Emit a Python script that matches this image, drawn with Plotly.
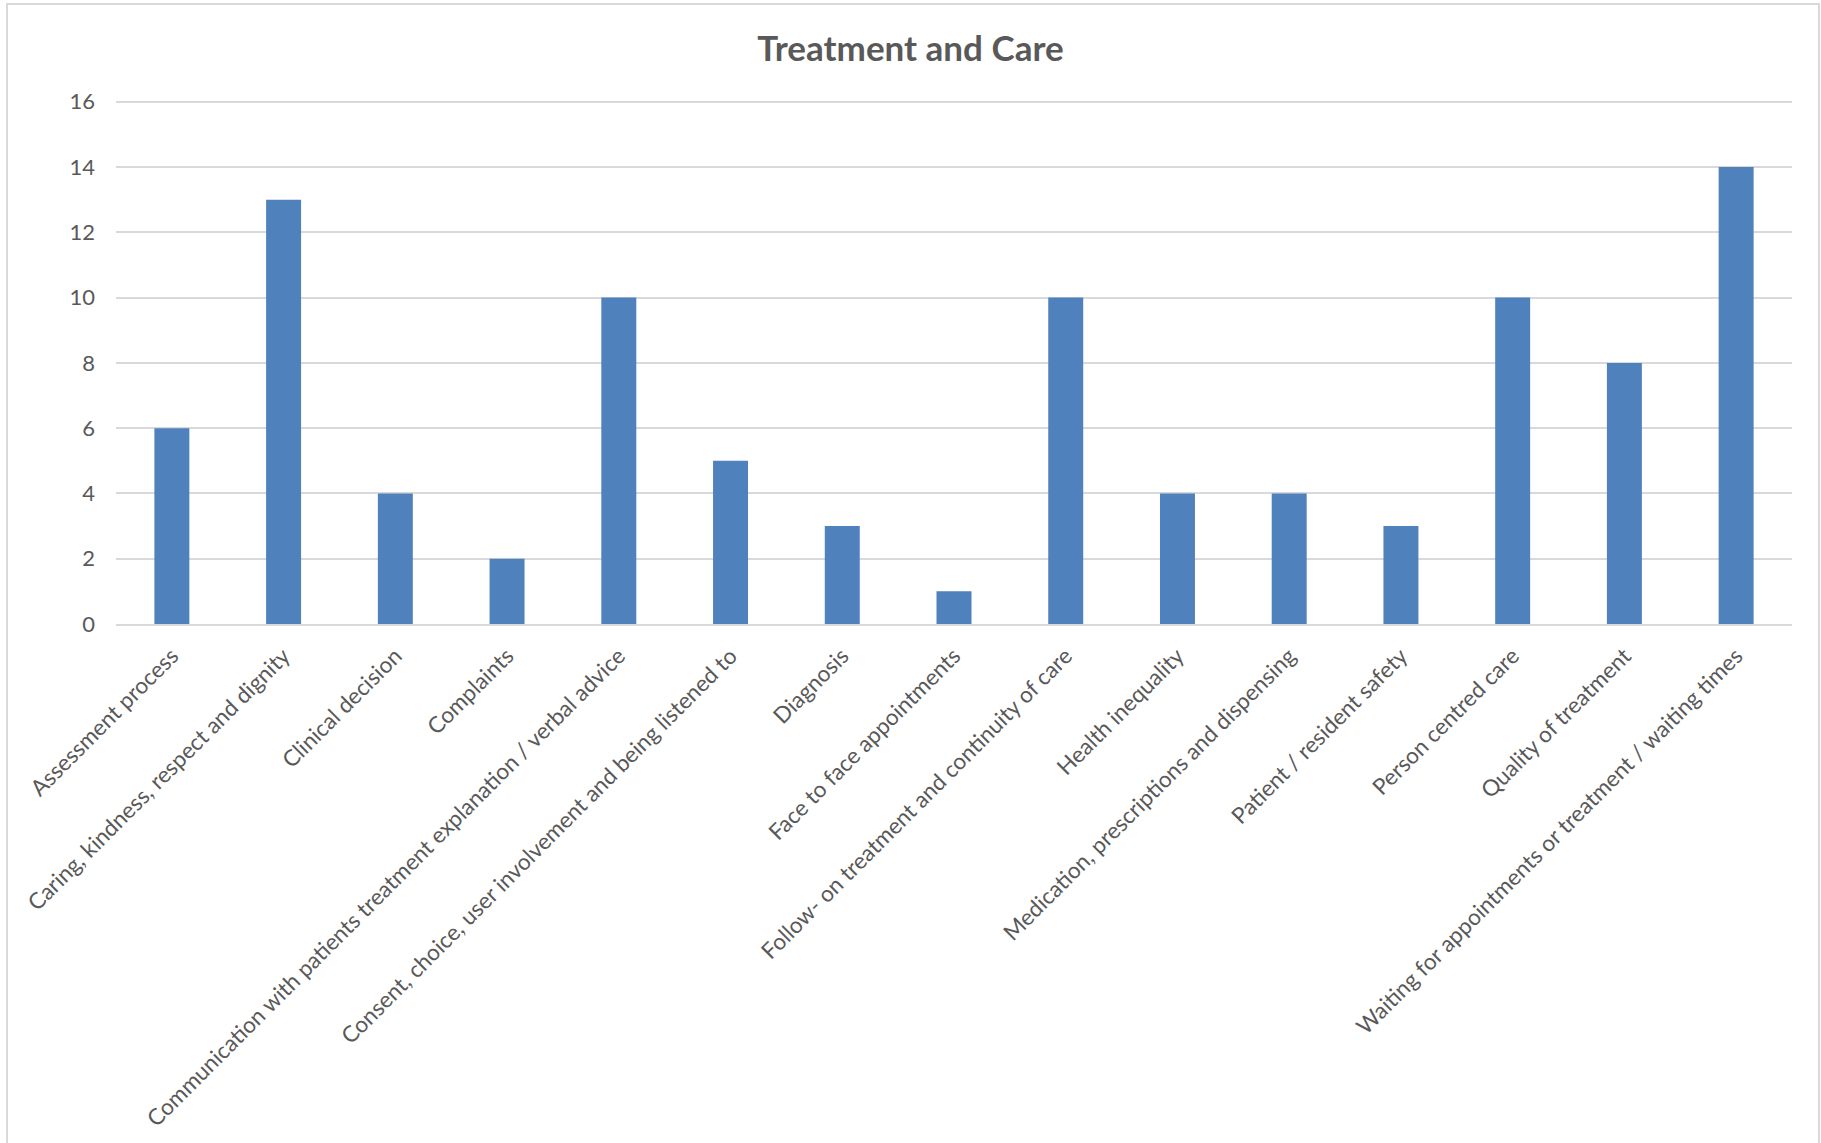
import plotly.graph_objects as go

categories = [
    "Assessment process",
    "Caring, kindness, respect and dignity",
    "Clinical decision",
    "Complaints",
    "Communication with patients treatment explanation / verbal advice",
    "Consent, choice, user involvement and being listened to",
    "Diagnosis",
    "Face to face appointments",
    "Follow- on treatment and continuity of care",
    "Health inequality",
    "Medication, prescriptions and dispensing",
    "Patient / resident safety",
    "Person centred care",
    "Quality of treatment",
    "Waiting for appointments or treatment / waiting times",
]
values = [6, 13, 4, 2, 10, 5, 3, 1, 10, 4, 4, 3, 10, 8, 14]
y_ticks = [0, 2, 4, 6, 8, 10, 12, 14, 16]

W, H = 1821, 1143
YMAX = 16.3
unit = (623.7 - 102) / 16.0
L, R, B = 116, 29, 519
T = int(round(102 - (YMAX - 16) * unit))
pw, ph = W - L - R, H - T - B

fig = go.Figure(go.Bar(
    x=categories, y=values,
    marker=dict(color="#4F81BD", line=dict(color="#4F81BD", width=0)),
))

def px(xpix):
    return (xpix - L) / pw

def py(ypix):
    return (H - B - ypix) / ph

fig.update_layout(
    width=W, height=H,
    margin=dict(l=L, r=R, t=T, b=B, autoexpand=False),
    paper_bgcolor="white", plot_bgcolor="white",
    bargap=0.687,
    showlegend=False,
    font=dict(family="Lato", color="#595959"),
    title=dict(text="<b>Treatment and Care</b>", x=0.5, xanchor="center",
               y=1 - 49 / H, yanchor="middle",
               font=dict(family="Lato", size=35, color="#595959")),
    xaxis=dict(tickangle=-45, tickfont=dict(size=22.5, color="#595959"),
               showgrid=False, showline=True, linecolor="#D9D9D9", linewidth=2,
               ticks="", ticklen=0, ticklabelstandoff=8),
    yaxis=dict(range=[0, YMAX], tickvals=y_ticks, tickfont=dict(size=22, color="#595959"),
               showgrid=True, gridcolor="#D9D9D9", gridwidth=2,
               zeroline=False, showline=False, ticks="", ticklabelstandoff=20),
    shapes=[dict(type="rect", xref="paper", yref="paper",
                 x0=px(7), x1=px(1819), y0=py(1150), y1=py(4),
                 line=dict(color="#D9D9D9", width=2), fillcolor="rgba(0,0,0,0)",
                 layer="below")],
)

fig.write_html("out.html")
